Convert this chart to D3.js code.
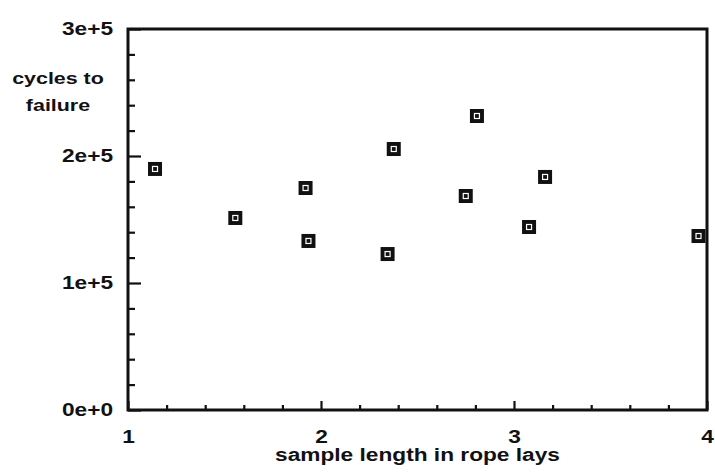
<!DOCTYPE html>
<html>
<head>
<meta charset="utf-8">
<script src="https://cdn.jsdelivr.net/npm/d3@7"></script>
<style>
  html, body { margin: 0; padding: 0; background: #fff; }
  svg text { font-family: "Liberation Sans", Arial, Helvetica, sans-serif; font-weight: bold; fill: #111; }
</style>
</head>
<body>
<svg id="chart" width="715" height="474"></svg>
<script>
// ---- data ----
const sampleLength = [1.14, 1.556, 1.92, 1.935, 2.345, 2.377, 2.75, 2.808, 3.078, 3.161, 3.956];
const cyclesToFailure = [189800, 151200, 174800, 133100, 122800, 205500, 168500, 231500, 144100, 183500, 137000];
const xTicks = [1, 2, 3, 4];
const xTickLabels = ["1", "2", "3", "4"];
const yTicks = [0, 100000, 200000, 300000];
const yTickLabels = ["0e+0", "1e+5", "2e+5", "3e+5"];
const xTitle = "sample length in rope lays";
const yTitleLines = ["cycles to", "failure"];

// ---- layout ----
const mLeft = 128, mRight = 707, mTop = 29, mBottom = 410;
const stretch = 1.26;

const svg = d3.select("#chart");
const x = d3.scaleLinear().domain([1, 4]).range([mLeft, mRight]);
const y = d3.scaleLinear().domain([0, 300000]).range([mBottom, mTop]);

// minor ticks
const xMinor = d3.range(1, 4.0001, 0.2).filter(v => Math.abs(v - Math.round(v)) > 1e-6);
const yMinor = d3.range(0, 300001, 20000).filter(v => v % 100000 !== 0);

const gxMinor = svg.append("g").attr("transform", `translate(0,${mBottom})`)
  .call(d3.axisBottom(x).tickValues(xMinor).tickSize(-5).tickFormat(""));
const gyMinor = svg.append("g").attr("transform", `translate(${mLeft},0)`)
  .call(d3.axisLeft(y).tickValues(yMinor).tickSize(-7).tickFormat(""));

const gx = svg.append("g").attr("transform", `translate(0,${mBottom})`)
  .call(d3.axisBottom(x).tickValues(xTicks).tickSize(-9).tickPadding(20)
    .tickFormat((d, i) => xTickLabels[i]));
const gy = svg.append("g").attr("transform", `translate(${mLeft},0)`)
  .call(d3.axisLeft(y).tickValues(yTicks).tickSize(-13).tickPadding(15)
    .tickFormat((d, i) => yTickLabels[i]));

[gxMinor, gyMinor, gx, gy].forEach(g => {
  g.select(".domain").remove();
  g.selectAll(".tick line").attr("stroke", "#111").attr("stroke-width", 2.2);
  g.selectAll("text").attr("font-size", 18).attr("fill", "#111")
    .attr("font-family", '"Liberation Sans", Arial, sans-serif').attr("font-weight", "bold");
});
gy.selectAll(".tick text").attr("dy", "0.28em");

// frame
svg.append("rect")
  .attr("x", mLeft).attr("y", mTop)
  .attr("width", mRight - mLeft).attr("height", mBottom - mTop)
  .attr("fill", "none").attr("stroke", "#111").attr("stroke-width", 3);

// axis titles
svg.append("text")
  .attr("x", (mLeft + mRight) / 2).attr("y", 461)
  .attr("text-anchor", "middle").attr("font-size", 18)
  .text(xTitle);

svg.append("text")
  .attr("text-anchor", "middle").attr("font-size", 17)
  .selectAll("tspan").data(yTitleLines).join("tspan")
  .attr("x", 58).attr("y", (d, i) => 84 + i * 27)
  .text(d => d);

// points
const pts = svg.append("g").selectAll("g").data(sampleLength.map((v, i) => [v, cyclesToFailure[i]]))
  .join("g")
  .attr("transform", d => `translate(${x(d[0])},${y(d[1])})`);
pts.append("rect").attr("x", -7).attr("y", -7).attr("width", 14).attr("height", 14).attr("fill", "#111");
pts.append("rect").attr("x", -2.5).attr("y", -2.5).attr("width", 5).attr("height", 5)
  .attr("fill", "none").attr("stroke", "#fff").attr("stroke-width", 1.2);

// horizontal stretch of all text to mimic the scanned figure
svg.selectAll("text").each(function () {
  const t = d3.select(this);
  const spans = t.selectAll("tspan");
  if (spans.size()) {
    spans.each(function () {
      const len = this.getComputedTextLength();
      d3.select(this).attr("textLength", len * stretch).attr("lengthAdjust", "spacingAndGlyphs");
    });
  } else {
    const len = this.getComputedTextLength();
    t.attr("textLength", len * stretch).attr("lengthAdjust", "spacingAndGlyphs");
  }
});
</script>
</body>
</html>
